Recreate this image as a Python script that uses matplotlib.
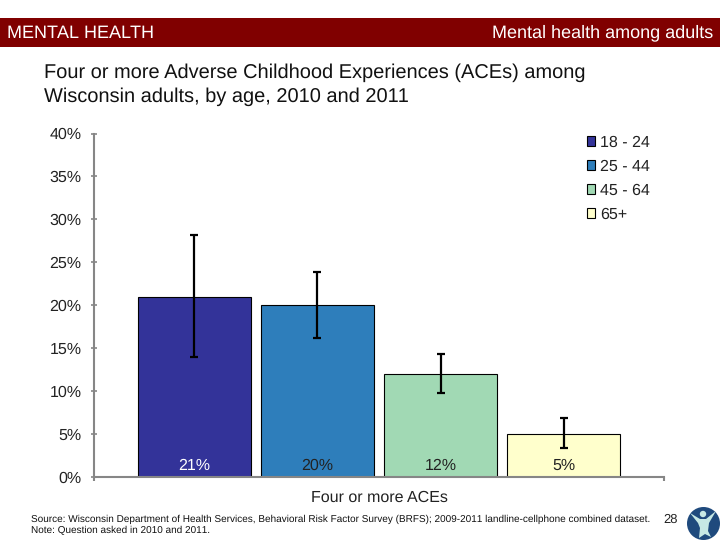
import matplotlib
matplotlib.use("Agg")
import matplotlib.pyplot as plt
from matplotlib.patches import Rectangle, Circle, Polygon

plt.rcParams['font.family'] = ['Liberation Sans', 'DejaVu Sans']
plt.rcParams['text.hinting'] = 'no_hinting'
plt.rcParams['text.hinting_factor'] = 1

# data
ages = ['18 - 24', '25 - 44', '45 - 64', '65+']
values = [21, 20, 12, 5]
ci_low = [13.9, 16.2, 9.8, 3.3]
ci_high = [28.2, 23.9, 14.3, 6.8]
colors = ['#333399', '#2e7ebb', '#a1d9b4', '#ffffcc']
label_colors = ['white', '#222222', '#222222', '#222222']
yticks = [0, 5, 10, 15, 20, 25, 30, 35, 40]

W, H = 720., 540.
GRAY = '#868686'

def fx(px):
    return px / W

def fy(py):
    return 1. - py / H

fig = plt.figure(figsize=(7.2, 5.4), dpi=100, facecolor='white')

# header band
fig.add_artist(Rectangle((0, fy(47)), 1, 29. / H, transform=fig.transFigure,
                         facecolor='#800000', edgecolor='none'))
fig.text(fx(7), fy(33), 'MENTAL HEALTH', color='white', fontsize=13.2, va='center')
fig.text(fx(713), fy(33), 'Mental health among adults', color='white', fontsize=13,
         va='center', ha='right')

# title
fig.text(fx(44), fy(72.5), 'Four or more Adverse Childhood Experiences (ACEs) among',
         fontsize=14.4, va='center', color='#111111')
fig.text(fx(44), fy(97), 'Wisconsin adults, by age, 2010 and 2011',
         fontsize=14.4, va='center', color='#111111')

# chart
ax = fig.add_axes([fx(94), fy(476.7), (664 - 94) / W, (476.7 - 133.5) / H])
xs = range(len(values))
ax.bar(xs, values, width=0.915, color=colors, edgecolor='black', linewidth=0.8, zorder=2)
yerr = [[v - l for v, l in zip(values, ci_low)], [h - v for v, h in zip(values, ci_high)]]
ax.errorbar(xs, values, yerr=yerr, fmt='none', ecolor='black', elinewidth=1.6,
            capsize=2.6, capthick=1.6, zorder=3)
for x, v, c in zip(xs, values, label_colors):
    ax.text(x, 1.25, '%d%%' % v, ha='center', va='center', fontsize=11.6, color=c, zorder=4)

ax.set_xlim(-0.817, 3.817)
ax.set_ylim(0, 40)
ax.set_yticks(yticks)
ax.set_yticklabels(['%d%%' % t for t in yticks], fontsize=11.6, color='#222222')
ax.set_xticks([-0.817, 3.817])
ax.set_xticklabels([])
for s in ['top', 'right']:
    ax.spines[s].set_visible(False)
for s in ['left', 'bottom']:
    ax.spines[s].set_color(GRAY)
    ax.spines[s].set_linewidth(1.5)
    ax.spines[s].set_zorder(5)
ax.tick_params(axis='y', color=GRAY, width=1.2, length=4, direction='inout', pad=7)
ax.tick_params(axis='x', color=GRAY, width=1.5, length=3, direction='out')

ax.set_xlabel('Four or more ACEs', fontsize=11.6, color='#222222', labelpad=3)

# legend
handles = [Rectangle((0, 0), 1, 1, facecolor=c, edgecolor='black', linewidth=0.8) for c in colors]
fig.legend(handles, ages, loc='upper left', bbox_to_anchor=(fx(583.5), fy(132)), frameon=False,
           fontsize=11.4, handlelength=0.55, handleheight=0.55, handletextpad=0.3,
           labelspacing=0.57, labelcolor='#222222', borderaxespad=0, borderpad=0.2)

# footer
fig.text(fx(31), fy(519), 'Source: Wisconsin Department of Health Services, Behavioral Risk Factor '
         'Survey (BRFS); 2009-2011 landline-cellphone combined dataset.',
         fontsize=7.15, va='center', color='#111111')
fig.text(fx(31), fy(531), 'Note: Question asked in 2010 and 2011.',
         fontsize=7.15, va='center', color='#111111')
fig.text(fx(671), fy(520), '28', fontsize=9, va='center', ha='center', color='#222222')

# logo, drawn in pixel coordinates
logo = fig.add_axes([0, 0, 1, 1], facecolor='none')
logo.set_xlim(0, W)
logo.set_ylim(H, 0)
logo.axis('off')
logo.add_patch(Circle((703.5, 523.5), 16.5, facecolor='#1f4a7d', edgecolor='none'))
logo.add_patch(Polygon([(690, 513), (700, 519), (706, 519), (716, 511), (709, 523), (708, 531),
                        (711, 537), (705, 534), (699, 538), (700, 528), (698, 523)],
                       closed=True, facecolor='#c6e8e4', edgecolor='none'))
logo.add_patch(Circle((703, 514), 3.2, facecolor='#c6e8e4', edgecolor='none'))

fig.savefig('out.png', dpi=100)
